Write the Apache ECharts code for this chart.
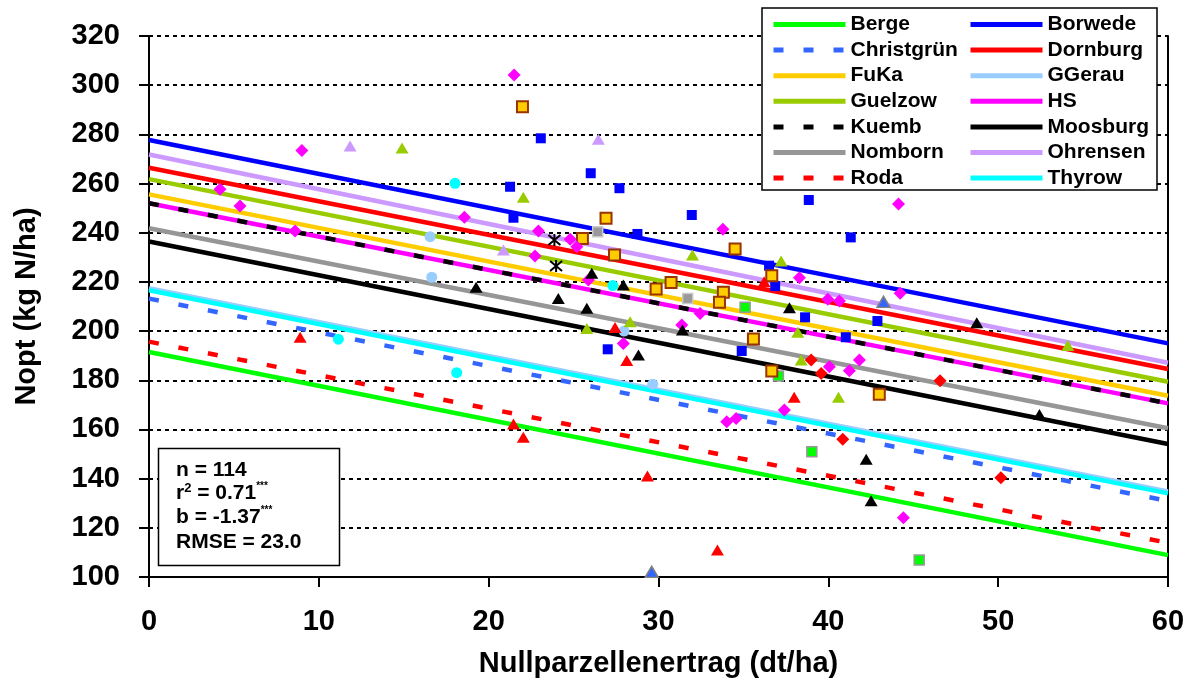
<!DOCTYPE html>
<html>
<head>
<meta charset="utf-8">
<script src="https://cdn.jsdelivr.net/npm/echarts@6/dist/echarts.min.js"></script>
<style>
html,body{margin:0;padding:0;background:#fff;}
#chart{width:1194px;height:688px;}
</style>
</head>
<body>
<div id="chart"></div>
<script>
// ---- data ----
const sites = ['Berge','Borwede','Christgrün','Dornburg','FuKa','GGerau','Guelzow','HS','Kuemb','Moosburg','Nomborn','Ohrensen','Roda','Thyrow'];
const lineX = [0, 60];
const lineAt0  = [191.5, 277.7, 213.2, 266.4, 255.6, 217.4, 261.8, 252.0, 252.0, 236.4, 241.8, 271.8, 195.7, 216.6];
const lineAt60 = [108.9, 195.0, 130.9, 184.6, 173.7, 134.8, 179.4, 170.6, 170.6, 154.1, 160.5, 187.1, 113.9, 134.0];

const ptsBerge = [[35.1,209.7],[37.06,181.7],[39.03,150.9],[45.35,106.9]];
const ptsBorwede = [[23.07,278.4],[26.01,264.2],[21.26,258.7],[27.7,258.1],[21.46,246.1],[28.76,239.5],[27.01,192.6],[34.9,191.9],[38.85,253.3],[31.96,247.2],[41.32,238.1],[36.51,226.6],[36.87,218.3],[38.63,205.6],[42.89,204.1],[41.03,197.5]];
const ptsChristgruen = [[29.6,102.1],[43.25,211.9]];
const ptsDornburg = [[38.99,188.2],[39.58,182.8],[46.58,179.8],[40.85,156.0],[50.16,140.4]];
const ptsFuKa = [[21.99,291.2],[26.91,245.9],[25.52,237.7],[27.41,230.9],[34.51,233.4],[36.67,222.5],[29.86,217.1],[30.74,219.8],[33.82,215.8],[33.59,211.7],[35.59,196.8],[36.67,183.8],[43.0,174.3]];
const ptsGGerau = [[16.55,238.4],[16.65,221.9],[27.97,200.0],[29.66,178.4]];
const ptsGuelzow = [[14.9,274.5],[22.04,254.4],[25.78,201.1],[28.33,203.8],[32.0,230.9],[37.22,228.5],[38.2,199.5],[38.4,188.2],[40.6,173.1],[54.1,194.1]];
const ptsHS = [[9.0,273.4],[4.18,257.7],[5.36,250.9],[8.6,240.7],[21.5,304.1],[18.57,246.3],[22.93,240.7],[24.8,237.3],[25.19,234.3],[22.73,230.5],[25.87,220.8],[31.37,202.5],[32.45,207.2],[27.93,195.0],[34.02,163.1],[34.57,164.5],[44.13,251.7],[33.79,241.4],[38.3,221.7],[39.97,212.9],[40.65,212.2],[44.23,215.4],[40.06,185.5],[41.83,188.2],[41.24,183.9],[37.41,167.9],[44.42,124.1]];
const ptsKuemb = [[23.87,237.0],[23.97,226.5]];
const ptsMoosburg = [[19.26,217.8],[26.07,223.5],[27.93,218.7],[24.1,213.3],[25.78,209.3],[31.41,200.4],[28.82,190.3],[37.71,209.5],[48.74,203.4],[52.43,166.1],[42.23,147.9],[42.52,131.0]];
const ptsNomborn = [[26.42,240.4],[31.72,213.3]];
const ptsOhrensen = [[11.84,275.3],[26.46,278.0],[20.87,233.0]];
const ptsRoda = [[8.9,197.5],[27.44,201.5],[28.13,188.0],[21.46,162.2],[22.04,156.8],[29.35,141.1],[33.47,111.0],[36.22,220.1],[37.99,173.1]];
const ptsThyrow = [[18.02,260.1],[11.15,196.7],[18.12,183.1],[27.31,218.5]];

const legendCol1 = ['Berge','Christgrün','FuKa','Guelzow','Kuemb','Nomborn','Roda'];
const legendCol2 = ['Borwede','Dornburg','GGerau','HS','Moosburg','Ohrensen','Thyrow'];
const statLines = ['n = 114', 'r|2| = 0.71|***', 'b = -1.37|***', 'RMSE = 23.0'];
const xTitle = 'Nullparzellenertrag (dt/ha)';
const yTitle = 'Nopt (kg N/ha)';

// ---- styles ----
const FONT = '"Liberation Sans", Arial, Helvetica, sans-serif';
const lineColor = {
  'Berge':'#00FF00','Borwede':'#0000FF','Christgrün':'#3366FF','Dornburg':'#FF0000','FuKa':'#FFCC00',
  'GGerau':'#99CCFF','Guelzow':'#99CC00','HS':'#FF00FF','Kuemb':'#000000','Moosburg':'#000000',
  'Nomborn':'#969696','Ohrensen':'#CC99FF','Roda':'#FF0000','Thyrow':'#00FFFF'
};
const dashed = {'Christgrün':true,'Kuemb':true,'Roda':true};
const asterisk = 'path://M1,1L11,11M11,1L1,11M6,0L6,12';
const marker = {
  'Berge':{s:'rect',z:10,c:'#00FF00',b:'#999999',bw:1.5},
  'Borwede':{s:'rect',z:10,c:'#0000FF'},
  'Christgrün':{s:'triangle',z:[13,11],c:'#3366FF',b:'#808080',bw:1.5},
  'Dornburg':{s:'diamond',z:13,c:'#FF0000'},
  'FuKa':{s:'rect',z:11,c:'#FFCC00',b:'#993300',bw:2},
  'GGerau':{s:'circle',z:11,c:'#99CCFF'},
  'Guelzow':{s:'triangle',z:[13,11],c:'#99CC00'},
  'HS':{s:'diamond',z:13,c:'#FF00FF'},
  'Kuemb':{s:asterisk,z:12,c:'rgba(0,0,0,0)',b:'#000000',bw:2},
  'Moosburg':{s:'triangle',z:[13,11],c:'#000000'},
  'Nomborn':{s:'rect',z:10,c:'#999999',b:'#C8C8C8',bw:1.5},
  'Ohrensen':{s:'triangle',z:[13,11],c:'#CC99FF'},
  'Roda':{s:'triangle',z:[13,11],c:'#FF0000'},
  'Thyrow':{s:'circle',z:11,c:'#00FFFF'}
};
const points = {
  'Berge':ptsBerge,'Borwede':ptsBorwede,'Christgrün':ptsChristgruen,'Dornburg':ptsDornburg,'FuKa':ptsFuKa,
  'GGerau':ptsGGerau,'Guelzow':ptsGuelzow,'HS':ptsHS,'Kuemb':ptsKuemb,'Moosburg':ptsMoosburg,
  'Nomborn':ptsNomborn,'Ohrensen':ptsOhrensen,'Roda':ptsRoda,'Thyrow':ptsThyrow
};

const series = [];
sites.forEach((name, i) => {
  series.push({
    name: name, type: 'line', z: 2, symbol: 'none', showSymbol: false, silent: true, animation: false,
    data: [[lineX[0], lineAt0[i]], [lineX[1], lineAt60[i]]],
    lineStyle: { color: lineColor[name], width: 4.5, type: dashed[name] ? [10, 20] : 'solid', cap: 'butt' },
    itemStyle: { color: lineColor[name] }
  });
});
sites.forEach((name) => {
  const m = marker[name];
  series.push({
    name: name + ' (Messwerte)', type: 'scatter', z: 3, silent: true, animation: false,
    symbol: m.s, symbolSize: m.z, data: points[name],
    itemStyle: { color: m.c, borderColor: m.b || m.c, borderWidth: m.bw || 0, opacity: 1 }
  });
});

function legendFor(names, left) {
  return {
    data: names, orient: 'vertical', left: left, top: 14, padding: 0,
    itemWidth: 72, itemHeight: 14, itemGap: 4.6, z: 20, selectedMode: false,
    itemStyle: { opacity: 0, borderWidth: 0 },
    lineStyle: { width: 5 },
    textStyle: { fontFamily: FONT, fontWeight: 'bold', fontSize: 21, color: '#000', lineHeight: 20 }
  };
}

const statGraphics = [];
const statTop = [458, 481.5, 505, 530];
statLines.forEach((t, i) => {
  const parts = t.split('|');
  let rich = '';
  parts.forEach((p, k) => {
    const isSup = (k % 2 === 1);
    rich += '{' + (isSup ? (p === '***' ? 'st' : 's') : 'm') + '|' + p + '}';
  });
  statGraphics.push({
    type: 'text', x: 176, y: statTop[i], z: 31,
    style: {
      text: rich, fill: '#000',
      rich: {
        m: { fontFamily: FONT, fontWeight: 'bold', fontSize: 21, lineHeight: 24, fill: '#000' },
        s: { fontFamily: FONT, fontWeight: 'bold', fontSize: 13, lineHeight: 14, verticalAlign: 'top', fill: '#000' },
        st: { fontFamily: FONT, fontWeight: 'bold', fontSize: 10, lineHeight: 12, verticalAlign: 'top', fill: '#000' }
      }
    }
  });
});

const option = {
  backgroundColor: '#fff',
  animation: false,
  grid: { left: 149, right: 26, top: 36, bottom: 111, containLabel: false },
  xAxis: {
    type: 'value', min: 0, max: 60, interval: 10,
    name: xTitle, nameLocation: 'middle', nameGap: 72,
    nameTextStyle: { fontFamily: FONT, fontWeight: 'bold', fontSize: 29, color: '#000' },
    axisLine: { show: true, onZero: false, lineStyle: { color: '#000', width: 2 } },
    axisTick: { show: true, inside: false, length: 10, lineStyle: { color: '#000', width: 2 } },
    axisLabel: { margin: 30, fontFamily: FONT, fontWeight: 'bold', fontSize: 29, color: '#000' },
    splitLine: { show: false }
  },
  yAxis: [{
    type: 'value', min: 100, max: 320, interval: 20, position: 'left',
    name: yTitle, nameLocation: 'middle', nameGap: 108,
    nameTextStyle: { fontFamily: FONT, fontWeight: 'bold', fontSize: 29, color: '#000' },
    axisLine: { show: true, onZero: false, lineStyle: { color: '#000', width: 2 } },
    axisTick: { show: true, inside: false, length: 10, lineStyle: { color: '#000', width: 2 } },
    axisLabel: { margin: 29, fontFamily: FONT, fontWeight: 'bold', fontSize: 29, color: '#000' },
    splitLine: { show: true, lineStyle: { color: '#000', width: 2, type: [4, 4] } }
  }, {
    type: 'value', min: 100, max: 320, interval: 20, position: 'right',
    axisLine: { show: true, onZero: false, lineStyle: { color: '#000', width: 2 } },
    axisTick: { show: false }, axisLabel: { show: false }, splitLine: { show: false }
  }],
  legend: [legendFor(legendCol1, 771), legendFor(legendCol2, 968)],
  graphic: [
    { type: 'rect', z: 10, shape: { x: 762, y: 8, width: 395, height: 182 },
      style: { fill: '#fff', stroke: '#000', lineWidth: 1.5 } },
    { type: 'rect', z: 30, shape: { x: 158.5, y: 448.5, width: 181, height: 117 },
      style: { fill: '#fff', stroke: '#000', lineWidth: 1.5 } }
  ].concat(statGraphics),
  series: series
};

const chart = echarts.init(document.getElementById('chart'), null, { renderer: 'canvas' });
chart.setOption(option);
</script>
</body>
</html>
